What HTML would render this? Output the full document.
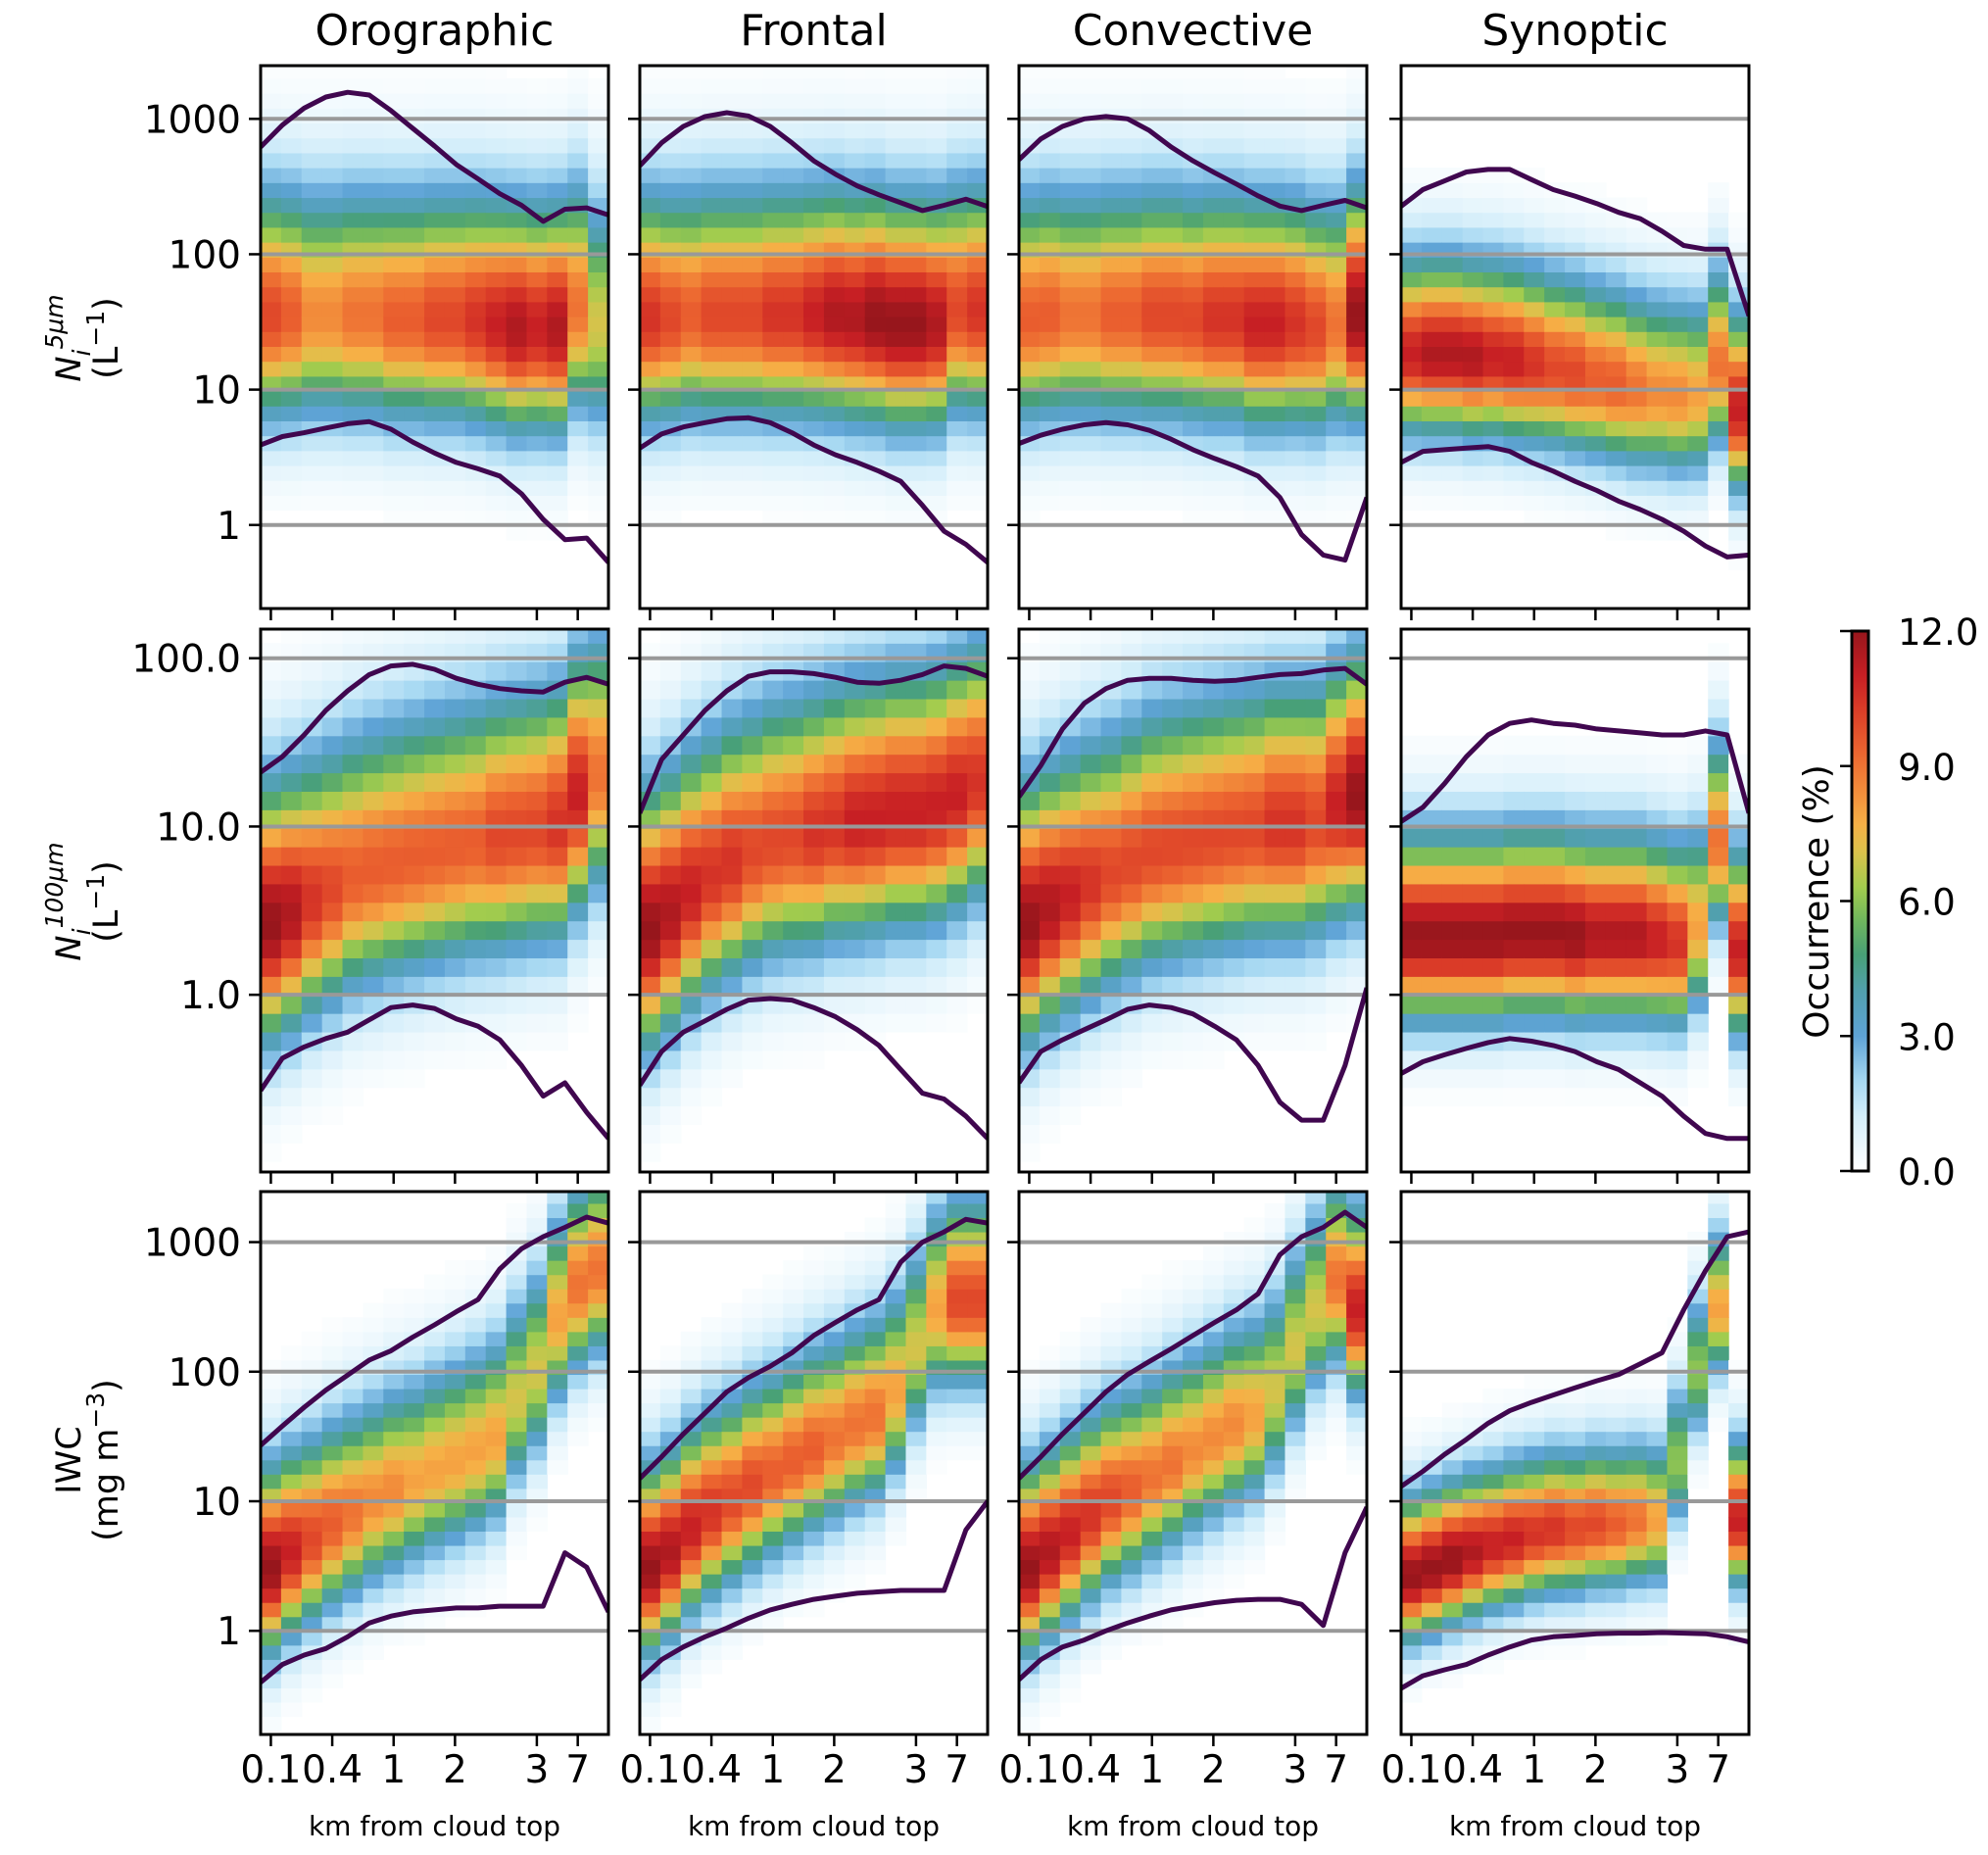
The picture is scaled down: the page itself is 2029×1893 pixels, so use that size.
<!DOCTYPE html>
<html><head><meta charset="utf-8"><style>
html,body{margin:0;padding:0;background:#fff;}
svg{display:block;font-family:"DejaVu Sans","Liberation Sans",sans-serif;}
</style></head><body>
<svg id="fig" width="2029" height="1893" viewBox="0 0 2029 1893" xmlns="http://www.w3.org/2000/svg"></svg>
<script>
// ---------- data ----------
const columnTitles = ["Orographic","Frontal","Convective","Synoptic"];
const xTickLabels = ["0.1","0.4","1","2","3","7"];
const xTickCols = [0,3,6,9,13,15];
const nCols = 17;
const colorbarTicks = [0,3,6,9,12];

// Row 1: Ni 5um
const r1_oro_center=[35,35,35,35,35,35,33,33,33,33,32,30,28,28,28,40,30];
const r1_oro_peak=[10,9.5,8.5,8.5,9,9,9.5,9.5,10,10,10.5,11,11.5,11,11.5,9,7];
const r1_oro_upper=[620,900,1200,1450,1570,1500,1150,850,630,460,360,280,230,175,215,220,195];
const r1_oro_lower=[3.9,4.5,4.8,5.2,5.6,5.8,5.1,4.1,3.4,2.9,2.6,2.3,1.7,1.1,0.78,0.8,0.53];
const r1_fro_center=[33,33,35,35,35,35,35,35,35,35,33,33,30,30,30,38,38];
const r1_fro_peak=[10.5,10,9.5,10,10,10,10.5,10.5,11,11.5,11.5,12,12,12,11.5,10,10.5];
const r1_fro_upper=[450,665,880,1040,1110,1050,880,665,490,390,320,275,240,210,230,255,225];
const r1_fro_lower=[3.7,4.7,5.3,5.7,6.1,6.2,5.7,4.8,3.9,3.3,2.9,2.5,2.1,1.4,0.9,0.72,0.53];
const r1_con_center=[33,35,35,35,35,35,35,35,33,33,33,30,30,30,28,30,35];
const r1_con_peak=[9.5,9.5,9,9,9.5,9.5,10,10,10,10.5,10.5,11,11,10.5,10,9,12];
const r1_con_upper=[500,710,880,1000,1040,1000,820,620,490,400,330,270,227,210,230,250,220];
const r1_con_lower=[4.0,4.6,5.1,5.5,5.7,5.5,5.0,4.3,3.6,3.1,2.7,2.3,1.6,0.85,0.6,0.55,1.6];
const r1_syn_center=[18,18,18,17,17,16,15,14,13,12,11,10,9.5,9,9,15,7];
const r1_syn_peak=[11,11.5,11.5,11.5,11,11,10.5,10,10,9.5,9.5,9,8.5,8.5,8,9,11];
const r1_syn_upper=[226,300,348,405,423,423,356,300,269,237,204,183,148,116,109,109,35];
const r1_syn_lower=[2.9,3.5,3.6,3.7,3.8,3.5,2.9,2.5,2.1,1.8,1.5,1.3,1.1,0.9,0.7,0.58,0.6];

// Row 2: Ni 100um
const r2_oro_center=[2.6,3,3.6,4.2,5,5.5,6,6.5,7,7.5,8,8.5,9,9.5,10,15,20];
const r2_oro_peak=[12,11.5,10.5,10,9.5,9.5,9.5,9.5,9.5,9.5,9.5,10,10,10,10.5,11,9];
const r2_oro_upper=[21,26,35,49,64,80,90,92,86,76,70,66,64,63,72,77,70];
const r2_oro_lower=[0.27,0.42,0.49,0.55,0.6,0.71,0.84,0.87,0.83,0.72,0.65,0.54,0.38,0.25,0.3,0.2,0.14];
const r2_fro_center=[2.4,3,4,5,6,7,8,8.5,9,10,10.5,11,12,12,13,15,18];
const r2_fro_peak=[12,11.5,11,10.5,10.5,10,10,10,10.5,10.5,11,11,11,11,11,11,10.5];
const r2_fro_upper=[12,25,35,49,64,78,83,83,81,77,72,71,74,80,90,87,78];
const r2_fro_lower=[0.29,0.46,0.6,0.7,0.82,0.93,0.95,0.93,0.84,0.74,0.62,0.5,0.36,0.26,0.24,0.19,0.14];
const r2_con_center=[2.6,3.2,3.8,4.5,5.2,6,7,7.5,8,8.5,9,9.5,10,10,10.5,13,15];
const r2_con_peak=[12,11.5,11,10.5,10,10,10,10,10,10,10,10,10.5,10.5,10,11,12];
const r2_con_upper=[15,23,38,54,66,74,76,76,74,73,74,77,80,81,85,87,70];
const r2_con_lower=[0.3,0.46,0.54,0.62,0.71,0.82,0.87,0.84,0.77,0.65,0.54,0.38,0.23,0.18,0.18,0.38,1.1];
const r2_syn_center=[2.2,2.2,2.2,2.2,2.2,2.3,2.3,2.3,2.2,2.2,2.2,2.2,2.1,2.0,2.5,8,1.8];
const r2_syn_peak=[12,12,12,12,12,12,12,12,12,11.5,11.5,11.5,11,10.5,8,9,11];
const r2_syn_upper=[10.7,13,18,26,35,41,43,41,40,38,37,36,35,35,37,35,12];
const r2_syn_lower=[0.34,0.4,0.44,0.48,0.52,0.55,0.53,0.5,0.46,0.4,0.36,0.3,0.25,0.19,0.15,0.14,0.14];

// Row 3: IWC
const r3_oro_center=[3,4,5,6.5,8,10,12,14,17,20,24,30,60,100,250,450,600];
const r3_oro_peak=[12,11,10,9.5,9,8.5,8.5,8,8,8,8,8,7,7,8,9,9];
const r3_oro_upper=[27,38,53,72,94,123,145,185,230,290,360,620,890,1100,1300,1560,1400];
const r3_oro_lower=[0.4,0.55,0.65,0.73,0.9,1.15,1.3,1.4,1.45,1.5,1.5,1.55,1.55,1.55,4.0,3.1,1.4];
const r3_fro_center=[3,4,6,8,10,13,16,20,25,30,38,45,70,150,300,350,350];
const r3_fro_peak=[12,11.5,11,10.5,10,10,9.5,9.5,9.5,9,9,9,8,7,8,10,10];
const r3_fro_upper=[15,22,33,48,70,90,110,140,190,240,300,360,700,1000,1200,1500,1400];
const r3_fro_lower=[0.42,0.6,0.75,0.9,1.05,1.25,1.45,1.6,1.75,1.85,1.95,2.0,2.05,2.05,2.05,6,10];
const r3_con_center=[3,4,5.5,7.5,10,12,15,19,24,30,38,45,70,150,300,500,300];
const r3_con_peak=[12,11.5,11,10.5,10,9.5,9,9,8.5,8.5,8.5,8,7,7,7,9,11];
const r3_con_upper=[15,22,33,48,70,95,120,150,190,240,300,400,800,1100,1300,1700,1300];
const r3_con_lower=[0.42,0.6,0.75,0.85,1.0,1.15,1.3,1.45,1.55,1.65,1.72,1.75,1.75,1.6,1.1,4,9];
const r3_syn_center=[2.6,3,3.5,4,4.5,5,5.5,6,6,6.5,6.5,7,7,20,100,300,7];
const r3_syn_peak=[12,12,12,11.5,11,11,10.5,10.5,10,10,9.5,9,8,6,6,8,11];
const r3_syn_upper=[13,17,23,30,40,50,58,66,75,85,95,115,140,300,600,1100,1200];
const r3_syn_lower=[0.36,0.45,0.5,0.55,0.65,0.75,0.85,0.9,0.92,0.95,0.96,0.96,0.97,0.96,0.95,0.9,0.82];

// spread (log10 decades) of distribution per panel
const r1_spread=[0.5,0.5,0.5,0.38];
const r2_spread=[0.45,0.45,0.45,0.32];
const r3_spread=[0.42,0.42,0.42,0.32];
const r1_ticks=[1,10,100,1000], r1_tickLabels=["1","10","100","1000"];
const r2_ticks=[1,10,100], r2_tickLabels=["1.0","10.0","100.0"];
const r3_ticks=[1,10,100,1000], r3_tickLabels=["1","10","100","1000"];

// ---------- layout ----------
const NS="http://www.w3.org/2000/svg";
const svg=document.getElementById('fig');
const colX=[266,653,1040,1430], PW=355, PH=554;
const rowY=[67,642,1216];
const rowLog=[[-0.617,3.393],[-1.053,2.173],[-0.80,3.39]];

function mk(tag,attrs,parent){const e=document.createElementNS(NS,tag);for(const k in attrs)e.setAttribute(k,attrs[k]);(parent||svg).appendChild(e);return e;}

const stops=[[0,"#ffffff"],[1.2,"#d4eefa"],[2,"#a6d8f2"],[3,"#5ea3d6"],[4,"#51a0ae"],[4.8,"#48a077"],[5.6,"#72b85c"],[6.3,"#a2cc4e"],[7.1,"#dcc24b"],[7.7,"#f6b046"],[8.5,"#f28a3a"],[9.3,"#ec6530"],[10.2,"#dc3f28"],[11,"#c71f24"],[12,"#97161c"]];
function hex(c){return [parseInt(c.slice(1,3),16),parseInt(c.slice(3,5),16),parseInt(c.slice(5,7),16)];}
function cmap(v){v=Math.max(0,Math.min(12,v));for(let i=1;i<stops.length;i++){if(v<=stops[i][0]){const a=stops[i-1],b=stops[i];const t=(v-a[0])/(b[0]-a[0]);const ca=hex(a[1]),cb=hex(b[1]);return `rgb(${Math.round(ca[0]+(cb[0]-ca[0])*t)},${Math.round(ca[1]+(cb[1]-ca[1])*t)},${Math.round(ca[2]+(cb[2]-ca[2])*t)})`;}}return stops[stops.length-1][1];}

const panels=[
 [[r1_oro_center,r1_oro_peak,r1_oro_upper,r1_oro_lower],[r1_fro_center,r1_fro_peak,r1_fro_upper,r1_fro_lower],[r1_con_center,r1_con_peak,r1_con_upper,r1_con_lower],[r1_syn_center,r1_syn_peak,r1_syn_upper,r1_syn_lower]],
 [[r2_oro_center,r2_oro_peak,r2_oro_upper,r2_oro_lower],[r2_fro_center,r2_fro_peak,r2_fro_upper,r2_fro_lower],[r2_con_center,r2_con_peak,r2_con_upper,r2_con_lower],[r2_syn_center,r2_syn_peak,r2_syn_upper,r2_syn_lower]],
 [[r3_oro_center,r3_oro_peak,r3_oro_upper,r3_oro_lower],[r3_fro_center,r3_fro_peak,r3_fro_upper,r3_fro_lower],[r3_con_center,r3_con_peak,r3_con_upper,r3_con_lower],[r3_syn_center,r3_syn_peak,r3_syn_upper,r3_syn_lower]]];
const spreads=[r1_spread,r2_spread,r3_spread];
const ticks=[r1_ticks,r2_ticks,r3_ticks], tickLabels=[r1_tickLabels,r2_tickLabels,r3_tickLabels];
const rowNames=["ni5","ni100","iwc"];
const panelNames=["orographic","frontal","convective","synoptic"];

for(let r=0;r<3;r++){
 const [lo,hi]=rowLog[r];
 const yS=v=>rowY[r]+PH*(hi-Math.log10(v))/(hi-lo);
 const ySl=l=>rowY[r]+PH*(hi-l)/(hi-lo);
 for(let c=0;c<4;c++){
  const x0=colX[c];
  const xS=i=>x0+PW*i/nCols;
  const g=mk('g',{});
  
  
  const cp=mk('clipPath',{id:`cp${r}${c}`},g);mk('rect',{x:x0,y:rowY[r],width:PW,height:PH},cp);
  const hm=mk('g',{'clip-path':`url(#cp${r}${c})`},g);
  
  
  const [cen,pk,up,lw]=panels[r][c];
  const sp=spreads[r][c];
  const binW=0.11;
  for(let i=0;i<nCols;i++){
   const cl=Math.log10(cen[i]);
   for(let b=Math.floor(lo/binW);b*binW<hi;b++){
    const mid=(b+0.5)*binW; const d=mid-cl;
    const s=d>0?sp*1.25:sp;
    const v=pk[i]*Math.exp(-0.5*(d/s)*(d/s));
    if(v<0.12)continue;
    const cell=mk('rect',{x:xS(i).toFixed(2),y:ySl((b+1)*binW).toFixed(2),width:(PW/nCols+0.6).toFixed(2),height:(ySl(b*binW)-ySl((b+1)*binW)+0.6).toFixed(2),fill:cmap(v)},hm);
    
    
   }
  }
  ticks[r].forEach((t,k)=>{
   const gl=mk('line',{x1:x0,x2:x0+PW,y1:yS(t),y2:yS(t),stroke:"#999",'stroke-width':4},hm);
   
   
   mk('line',{x1:x0-12,x2:x0,y1:yS(t),y2:yS(t),stroke:"#000",'stroke-width':2.5},g);
   if(c===0){const tl=mk('text',{x:x0-20,y:yS(t)+14,'text-anchor':'end','font-size':39},g);tl.textContent=tickLabels[r][k];
    
    }
  });
  [up,lw].forEach((arr,li)=>{
   const pts=arr.map((v,i)=>`${(x0+PW*i/(arr.length-1)).toFixed(1)},${yS(v).toFixed(1)}`).join(' ');
   const pl=mk('polyline',{points:pts,fill:'none',stroke:'#40074f','stroke-width':5,'stroke-linejoin':'round'},hm);
   
   
  });
  mk('rect',{x:x0,y:rowY[r],width:PW,height:PH,fill:'none',stroke:'#000','stroke-width':3},g);
  xTickCols.forEach((ci,k)=>{
   const tx=xS(ci+0.5);
   mk('line',{x1:tx,x2:tx,y1:rowY[r]+PH,y2:rowY[r]+PH+12,stroke:'#000','stroke-width':2.5},g);
   if(r===2){const t=mk('text',{x:tx,y:1819,'text-anchor':'middle','font-size':39},g);t.textContent=xTickLabels[k];
    
    }
  });
  if(r===0){const t=mk('text',{x:x0+PW/2,y:46,'text-anchor':'middle','font-size':44},g);t.textContent=columnTitles[c];
   
   }
  if(r===2){const t=mk('text',{x:x0+PW/2,y:1873,'text-anchor':'middle','font-size':28},g);t.textContent="km from cloud top";
   
   }
 }
}
// row labels
function rowLabel(cy,l1,l2,name){
 const g=mk('g',{transform:`translate(0,${cy}) rotate(-90)`});
 
 
 const a=mk('text',{x:0,y:82,'text-anchor':'middle','font-size':35},g);a.innerHTML=l1;
 const b=mk('text',{x:0,y:120,'text-anchor':'middle','font-size':35},g);b.innerHTML=l2;
}
rowLabel(345,'<tspan font-style="italic">N</tspan><tspan font-style="italic" font-size="25" dy="10">i</tspan><tspan font-style="italic" font-size="25" dy="-28">5μm</tspan>','(L<tspan font-size="25" dy="-14">−1</tspan><tspan dy="14">)</tspan>','y-axis-title-ni5');
rowLabel(920,'<tspan font-style="italic">N</tspan><tspan font-style="italic" font-size="25" dy="10">i</tspan><tspan font-style="italic" font-size="25" dy="-28">100μm</tspan>','(L<tspan font-size="25" dy="-14">−1</tspan><tspan dy="14">)</tspan>','y-axis-title-ni100');
rowLabel(1490,'IWC','(mg m<tspan font-size="25" dy="-14">−3</tspan><tspan dy="14">)</tspan>','y-axis-title-iwc');

// colorbar
const cbX=1890,cbW=17,cbT=644,cbB=1195;
const defs=mk('defs',{});
const lg=mk('linearGradient',{id:'cbg',x1:0,y1:1,x2:0,y2:0},defs);
stops.forEach(s=>mk('stop',{offset:(s[0]/12).toFixed(3),'stop-color':s[1]},lg));
const cb=mk('g',{});


mk('rect',{x:cbX,y:cbT,width:cbW,height:cbB-cbT,fill:'url(#cbg)',stroke:'#000','stroke-width':3},cb);
colorbarTicks.forEach(v=>{
 const y=cbB-(cbB-cbT)*v/12;
 mk('line',{x1:cbX-12,x2:cbX,y1:y,y2:y,stroke:'#000','stroke-width':2.5},cb);
 const t=mk('text',{x:1937,y:y+14,'font-size':37},cb);t.textContent=v.toFixed(1);
 
 
});
const ct=mk('text',{x:0,y:0,'text-anchor':'middle','font-size':36,transform:`translate(1866,920) rotate(-90)`},cb);
ct.textContent="Occurrence (%)";


</script>
</body></html>
